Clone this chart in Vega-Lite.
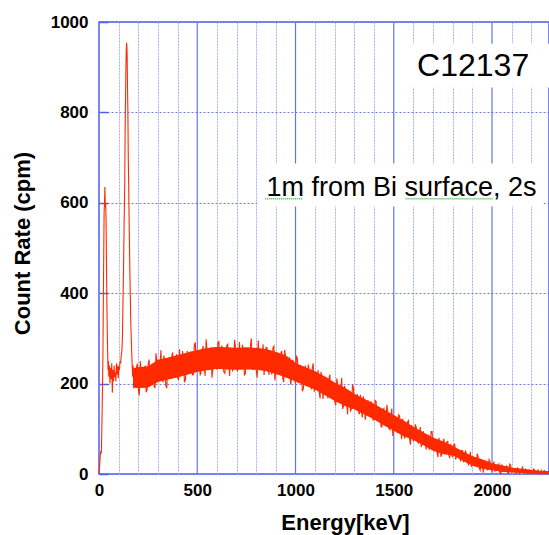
{
  "$schema": "https://vega.github.io/schema/vega-lite/v6.json",
  "width": 450,
  "height": 452,
  "autosize": {"type": "none"},
  "padding": {"left": 99, "top": 22, "right": 0, "bottom": 61},
  "background": "white",
  "config": {"view": {"stroke": "#4f5fe8", "strokeWidth": 1.5}, "font": "Liberation Sans"},
  "datasets": {
    "one": [{}],
    "major": [{"e": 500}, {"e": 1000}, {"e": 1500}, {"e": 2000}],
    "band": [
      {"e":175,"lo":192,"hi":234},{"e":200,"lo":190,"hi":236},{"e":250,"lo":192,"hi":238},{"e":300,"lo":204,"hi":252},
      {"e":350,"lo":209,"hi":257},{"e":400,"lo":214,"hi":262},{"e":450,"lo":220,"hi":268},{"e":500,"lo":226,"hi":274},
      {"e":550,"lo":230,"hi":278},{"e":600,"lo":233,"hi":281},{"e":650,"lo":232,"hi":280},{"e":700,"lo":231,"hi":279},
      {"e":750,"lo":232,"hi":280},{"e":800,"lo":231,"hi":279},{"e":850,"lo":228,"hi":276},{"e":900,"lo":222,"hi":270},
      {"e":950,"lo":214,"hi":262},{"e":1000,"lo":205,"hi":245},{"e":1050,"lo":196,"hi":236},{"e":1100,"lo":187,"hi":227},
      {"e":1150,"lo":175,"hi":215},{"e":1200,"lo":162,"hi":202},{"e":1250,"lo":151,"hi":191},{"e":1300,"lo":143,"hi":177},
      {"e":1350,"lo":132,"hi":166},{"e":1400,"lo":121,"hi":155},{"e":1450,"lo":108,"hi":142},{"e":1500,"lo":96,"hi":130},
      {"e":1550,"lo":84,"hi":118},{"e":1600,"lo":76,"hi":104},{"e":1650,"lo":64,"hi":92},{"e":1700,"lo":52,"hi":80},
      {"e":1750,"lo":44,"hi":72},{"e":1800,"lo":42,"hi":62},{"e":1850,"lo":30,"hi":50},{"e":1900,"lo":19,"hi":39},
      {"e":1950,"lo":12,"hi":32},{"e":2000,"lo":9,"hi":23},{"e":2050,"lo":5,"hi":19},{"e":2100,"lo":4,"hi":14},
      {"e":2150,"lo":3,"hi":11},{"e":2200,"lo":1,"hi":9},{"e":2250,"lo":0,"hi":6},{"e":2290,"lo":0,"hi":6}
    ],
    "spec": [
      {"e":0,"c":0},{"e":3,"c":15},{"e":6,"c":40},{"e":9,"c":50},{"e":12,"c":46},{"e":14,"c":90},{"e":17,"c":170},
      {"e":20,"c":260},{"e":22,"c":380},{"e":24,"c":480},{"e":26,"c":580},{"e":28,"c":600},{"e":30,"c":635},{"e":32,"c":590},
      {"e":34,"c":600},{"e":36,"c":560},{"e":38,"c":470},{"e":40,"c":380},{"e":42,"c":320},{"e":44,"c":268},{"e":46,"c":230},
      {"e":48,"c":250},{"e":50,"c":215},{"e":53,"c":240},{"e":56,"c":200},{"e":59,"c":235},{"e":62,"c":210},{"e":65,"c":245},
      {"e":68,"c":180},{"e":71,"c":230},{"e":74,"c":205},{"e":77,"c":240},{"e":80,"c":215},{"e":83,"c":225},{"e":86,"c":205},
      {"e":89,"c":245},{"e":92,"c":220},{"e":95,"c":240},{"e":98,"c":212},{"e":101,"c":238},{"e":104,"c":230},{"e":107,"c":250},
      {"e":110,"c":245},{"e":113,"c":262},{"e":116,"c":270},{"e":119,"c":300},{"e":122,"c":380},{"e":125,"c":460},{"e":128,"c":560},
      {"e":131,"c":640},{"e":133,"c":760},{"e":135,"c":830},{"e":137,"c":900},{"e":139,"c":940},{"e":141,"c":954},{"e":143,"c":930},
      {"e":145,"c":860},{"e":147,"c":800},{"e":149,"c":700},{"e":151,"c":640},{"e":153,"c":570},{"e":156,"c":480},{"e":159,"c":400},
      {"e":162,"c":330},{"e":165,"c":290},{"e":168,"c":250},{"e":171,"c":215},{"e":174,"c":240},{"e":177,"c":190},{"e":180,"c":225},
      {"e":190,"c":235},{"e":200,"c":188},{"e":210,"c":250},{"e":220,"c":200},{"e":230,"c":225},{"e":240,"c":181},{"e":250,"c":243},
      {"e":260,"c":209},{"e":270,"c":240},{"e":280,"c":195},{"e":290,"c":267},{"e":300,"c":211},{"e":310,"c":235},{"e":320,"c":208},
      {"e":330,"c":262},{"e":340,"c":196},{"e":350,"c":250},{"e":360,"c":223},{"e":370,"c":260},{"e":380,"c":216},{"e":390,"c":259},
      {"e":400,"c":213},{"e":410,"c":276},{"e":420,"c":226},{"e":430,"c":253},{"e":440,"c":209},{"e":450,"c":272},{"e":460,"c":237},
      {"e":470,"c":266},{"e":480,"c":220},{"e":490,"c":291},{"e":500,"c":233},{"e":510,"c":256},{"e":520,"c":229},{"e":530,"c":283},
      {"e":540,"c":217},{"e":550,"c":271},{"e":560,"c":243},{"e":570,"c":280},{"e":580,"c":236},{"e":590,"c":279},{"e":600,"c":232},
      {"e":610,"c":293},{"e":620,"c":243},{"e":630,"c":268},{"e":640,"c":223},{"e":650,"c":284},{"e":660,"c":247},{"e":670,"c":275},
      {"e":680,"c":227},{"e":690,"c":297},{"e":700,"c":238},{"e":710,"c":261},{"e":720,"c":233},{"e":730,"c":286},{"e":740,"c":219},
      {"e":750,"c":273},{"e":760,"c":245},{"e":770,"c":281},{"e":780,"c":236},{"e":790,"c":278},{"e":800,"c":230},{"e":810,"c":296},
      {"e":820,"c":240},{"e":830,"c":264},{"e":840,"c":219},{"e":850,"c":280},{"e":860,"c":242},{"e":870,"c":269},{"e":880,"c":220},
      {"e":890,"c":283},{"e":900,"c":229},{"e":910,"c":250},{"e":920,"c":220},{"e":930,"c":272},{"e":940,"c":203},{"e":950,"c":255},
      {"e":960,"c":224},{"e":970,"c":258},{"e":980,"c":211},{"e":990,"c":250},{"e":1000,"c":200},{"e":1010,"c":254},{"e":1020,"c":209},
      {"e":1030,"c":229},{"e":1040,"c":189},{"e":1050,"c":240},{"e":1060,"c":207},{"e":1070,"c":229},{"e":1080,"c":187},{"e":1090,"c":245},
      {"e":1100,"c":193},{"e":1110,"c":209},{"e":1120,"c":183},{"e":1130,"c":226},{"e":1140,"c":166},{"e":1150,"c":209},{"e":1160,"c":183},
      {"e":1170,"c":211},{"e":1180,"c":170},{"e":1190,"c":204},{"e":1200,"c":160},{"e":1210,"c":211},{"e":1220,"c":166},{"e":1230,"c":185},
      {"e":1240,"c":144},{"e":1250,"c":195},{"e":1260,"c":162},{"e":1270,"c":183},{"e":1280,"c":140},{"e":1290,"c":198},{"e":1300,"c":146},
      {"e":1310,"c":162},{"e":1320,"c":140},{"e":1330,"c":175},{"e":1340,"c":125},{"e":1350,"c":161},{"e":1360,"c":139},{"e":1370,"c":163},
      {"e":1380,"c":128},{"e":1390,"c":156},{"e":1400,"c":120},{"e":1410,"c":161},{"e":1420,"c":123},{"e":1430,"c":138},{"e":1440,"c":104},
      {"e":1450,"c":145},{"e":1460,"c":117},{"e":1470,"c":134},{"e":1480,"c":98},{"e":1490,"c":145},{"e":1500,"c":101},{"e":1510,"c":115},
      {"e":1520,"c":92},{"e":1530,"c":128},{"e":1540,"c":77},{"e":1550,"c":113},{"e":1560,"c":91},{"e":1570,"c":115},{"e":1580,"c":80},
      {"e":1590,"c":108},{"e":1600,"c":72},{"e":1610,"c":110},{"e":1620,"c":77},{"e":1630,"c":90},{"e":1640,"c":60},{"e":1650,"c":95},
      {"e":1660,"c":71},{"e":1670,"c":85},{"e":1680,"c":54},{"e":1690,"c":94},{"e":1700,"c":56},{"e":1710,"c":68},{"e":1720,"c":49},
      {"e":1730,"c":80},{"e":1740,"c":38},{"e":1750,"c":68},{"e":1760,"c":50},{"e":1770,"c":71},{"e":1780,"c":42},{"e":1790,"c":67},
      {"e":1800,"c":37},{"e":1810,"c":66},{"e":1820,"c":42},{"e":1830,"c":50},{"e":1840,"c":28},{"e":1850,"c":52},{"e":1860,"c":33},
      {"e":1870,"c":43},{"e":1880,"c":21},{"e":1890,"c":49},{"e":1900,"c":22},{"e":1910,"c":30},{"e":1920,"c":17},{"e":1930,"c":38},
      {"e":1940,"c":8},{"e":1950,"c":29},{"e":1960,"c":16},{"e":1970,"c":30},{"e":1980,"c":10},{"e":1990,"c":27},{"e":2000,"c":5},
      {"e":2010,"c":26},{"e":2020,"c":10},{"e":2030,"c":17},{"e":2040,"c":3},{"e":2050,"c":20},{"e":2060,"c":9},{"e":2070,"c":16},
      {"e":2080,"c":2},{"e":2090,"c":22},{"e":2100,"c":4},{"e":2110,"c":10},{"e":2120,"c":4},{"e":2130,"c":13},{"e":2140,"c":1},
      {"e":2150,"c":10},{"e":2160,"c":5},{"e":2170,"c":11},{"e":2180,"c":2},{"e":2190,"c":9},{"e":2200,"c":1},{"e":2210,"c":11},
      {"e":2220,"c":2},{"e":2230,"c":6},{"e":2240,"c":0},{"e":2250,"c":8},{"e":2260,"c":2},{"e":2270,"c":6},{"e":2280,"c":0},{"e":2290,"c":4},
      {"e":185,"c":195},{"e":195,"c":244},{"e":205,"c":174},{"e":215,"c":228},{"e":225,"c":208},{"e":235,"c":240},{"e":245,"c":187},
      {"e":255,"c":253},{"e":265,"c":199},{"e":275,"c":230},{"e":285,"c":190},{"e":295,"c":249},{"e":305,"c":217},{"e":315,"c":274},
      {"e":325,"c":205},{"e":335,"c":248},{"e":345,"c":190},{"e":355,"c":239},{"e":365,"c":212},{"e":375,"c":269},{"e":385,"c":228},
      {"e":395,"c":265},{"e":405,"c":208},{"e":415,"c":223},{"e":425,"c":272},{"e":435,"c":203},{"e":445,"c":257},{"e":455,"c":239},
      {"e":465,"c":271},{"e":475,"c":219},{"e":485,"c":285},{"e":495,"c":230},{"e":505,"c":259},{"e":515,"c":218},{"e":525,"c":274},
      {"e":535,"c":242},{"e":545,"c":298},{"e":555,"c":229},{"e":565,"c":272},{"e":575,"c":213},{"e":585,"c":262},{"e":595,"c":234},
      {"e":605,"c":291},{"e":615,"c":248},{"e":625,"c":284},{"e":635,"c":226},{"e":645,"c":239},{"e":655,"c":287},{"e":665,"c":217},
      {"e":675,"c":270},{"e":685,"c":250},{"e":695,"c":280},{"e":705,"c":227},{"e":715,"c":292},{"e":725,"c":236},{"e":735,"c":264},
      {"e":745,"c":222},{"e":755,"c":278},{"e":765,"c":244},{"e":775,"c":300},{"e":785,"c":230},{"e":795,"c":272},{"e":805,"c":213},
      {"e":815,"c":260},{"e":825,"c":231},{"e":835,"c":287},{"e":845,"c":244},{"e":855,"c":279},{"e":865,"c":219},{"e":875,"c":232},
      {"e":885,"c":279},{"e":895,"c":207},{"e":905,"c":259},{"e":915,"c":238},{"e":925,"c":267},{"e":935,"c":212},{"e":945,"c":275},
      {"e":955,"c":217},{"e":965,"c":242},{"e":975,"c":198},{"e":985,"c":251},{"e":995,"c":215},{"e":1005,"c":262},{"e":1015,"c":201},
      {"e":1025,"c":235},{"e":1035,"c":183},{"e":1045,"c":222},{"e":1055,"c":196},{"e":1065,"c":242},{"e":1075,"c":204},{"e":1085,"c":234},
      {"e":1095,"c":182},{"e":1105,"c":191},{"e":1115,"c":230},{"e":1125,"c":167},{"e":1135,"c":211},{"e":1145,"c":191},{"e":1155,"c":215},
      {"e":1165,"c":167},{"e":1175,"c":220},{"e":1185,"c":169},{"e":1195,"c":191},{"e":1205,"c":152},{"e":1215,"c":198},{"e":1225,"c":167},
      {"e":1235,"c":213},{"e":1245,"c":151},{"e":1255,"c":184},{"e":1265,"c":132},{"e":1275,"c":170},{"e":1285,"c":144},{"e":1295,"c":190},
      {"e":1305,"c":153},{"e":1315,"c":177},{"e":1325,"c":132},{"e":1335,"c":140},{"e":1345,"c":172},{"e":1355,"c":120},{"e":1365,"c":156},
      {"e":1375,"c":139},{"e":1385,"c":159},{"e":1395,"c":119},{"e":1405,"c":163},{"e":1415,"c":120},{"e":1425,"c":138},{"e":1435,"c":105},
      {"e":1445,"c":142},{"e":1455,"c":116},{"e":1465,"c":153},{"e":1475,"c":101},{"e":1485,"c":129},{"e":1495,"c":84},{"e":1505,"c":116},
      {"e":1515,"c":93},{"e":1525,"c":131},{"e":1535,"c":99},{"e":1545,"c":122},{"e":1555,"c":78},{"e":1565,"c":86},{"e":1575,"c":118},
      {"e":1585,"c":65},{"e":1595,"c":101},{"e":1605,"c":85},{"e":1615,"c":102},{"e":1625,"c":67},{"e":1635,"c":104},{"e":1645,"c":67},
      {"e":1655,"c":82},{"e":1665,"c":54},{"e":1675,"c":86},{"e":1685,"c":63},{"e":1695,"c":94},{"e":1705,"c":50},{"e":1715,"c":74},
      {"e":1725,"c":37},{"e":1735,"c":64},{"e":1745,"c":45},{"e":1755,"c":78},{"e":1765,"c":51},{"e":1775,"c":72},{"e":1785,"c":35},
      {"e":1795,"c":42},{"e":1805,"c":64},{"e":1815,"c":32},{"e":1825,"c":53},{"e":1835,"c":41},{"e":1845,"c":52},{"e":1855,"c":26},
      {"e":1865,"c":52},{"e":1875,"c":26},{"e":1885,"c":36},{"e":1895,"c":16},{"e":1905,"c":38},{"e":1915,"c":22},{"e":1925,"c":45},
      {"e":1935,"c":13},{"e":1945,"c":30},{"e":1955,"c":3},{"e":1965,"c":23},{"e":1975,"c":9},{"e":1985,"c":32},{"e":1995,"c":13},
      {"e":2005,"c":24},{"e":2015,"c":6},{"e":2025,"c":9},{"e":2035,"c":22},{"e":2045,"c":1},{"e":2055,"c":16},{"e":2065,"c":9},
      {"e":2075,"c":18},{"e":2085,"c":2},{"e":2095,"c":20},{"e":2105,"c":5},{"e":2115,"c":10},{"e":2125,"c":2},{"e":2135,"c":11},
      {"e":2145,"c":5},{"e":2155,"c":15},{"e":2165,"c":2},{"e":2175,"c":9},{"e":2185,"c":0},{"e":2195,"c":6},{"e":2205,"c":1},
      {"e":2215,"c":10},{"e":2225,"c":3},{"e":2235,"c":9},{"e":2245,"c":0},{"e":2255,"c":0},{"e":2265,"c":8},{"e":2275,"c":0},{"e":2285,"c":5}
    ]
  },
  "layer": [
    {
      "data": {"name": "band"},
      "mark": {"type": "area", "color": "#ff2a00", "opacity": 1},
      "encoding": {
        "x": {
          "field": "e", "type": "quantitative",
          "scale": {"domain": [0, 2290], "nice": false, "zero": false},
          "axis": {
            "values": [0,100,200,300,400,500,600,700,800,900,1000,1100,1200,1300,1400,1500,1600,1700,1800,1900,2000,2100,2200],
            "tickCount": 40,
            "format": "d",
            "labelExpr": "datum.value % 500 === 0 ? datum.label : ''",
            "labelOverlap": false, "labelFlush": false,
            "labelFont": "Liberation Sans", "labelFontWeight": "bold", "labelFontSize": 17, "labelColor": "black", "labelPadding": 8,
            "ticks": false, "domain": false,
            "grid": true,
            "gridColor": "#a9b0f5",
            "gridOpacity": {"condition": {"test": "datum.value % 500 === 0", "value": 0}, "value": 1},
            "gridDash": [2, 1],
            "gridWidth": 1,
            "title": "Energy[keV]",
            "titleFont": "Liberation Sans", "titleFontWeight": "bold", "titleFontSize": 22, "titleColor": "black",
            "titleX": 246, "titleY": 55, "titleBaseline": "alphabetic", "titleAlign": "center"
          }
        },
        "y": {
          "field": "lo", "type": "quantitative",
          "scale": {"domain": [0, 1000], "nice": false},
          "axis": {
            "values": [0,200,400,600,800,1000],
            "tickCount": 10,
            "format": "d",
            "labelFont": "Liberation Sans", "labelFontWeight": "bold", "labelFontSize": 17, "labelColor": "black", "labelPadding": 20,
            "ticks": true, "tickSize": -9, "tickColor": "#4f5fe8", "tickWidth": 1.5,
            "domain": false,
            "grid": true, "gridColor": "#6a78ee", "gridDash": [2, 2], "gridWidth": 1,
            "title": "Count Rate (cpm)",
            "titleFont": "Liberation Sans", "titleFontWeight": "bold", "titleFontSize": 22, "titleColor": "black",
            "titleX": -65, "titleY": 221, "titleAngle": -90, "titleBaseline": "bottom", "titleAlign": "center"
          }
        },
        "y2": {"field": "hi"}
      }
    },
    {
      "data": {"name": "major"},
      "mark": {"type": "rule", "color": "#6475f0", "strokeWidth": 1.2},
      "encoding": {
        "x": {"field": "e", "type": "quantitative"}
      }
    },
    {
      "data": {"name": "one"},
      "mark": {"type": "rect", "fill": "white"},
      "encoding": {
        "x": {"datum": 1550, "type": "quantitative"},
        "x2": {"datum": 2290},
        "y": {"datum": 855, "type": "quantitative"},
        "y2": {"datum": 952}
      }
    },
    {
      "data": {"name": "one"},
      "mark": {"type": "rect", "fill": "white"},
      "encoding": {
        "x": {"datum": 805, "type": "quantitative"},
        "x2": {"datum": 2263},
        "y": {"datum": 592, "type": "quantitative"},
        "y2": {"datum": 687}
      }
    },
    {
      "data": {"name": "band"},
      "mark": {"type": "area", "color": "#ff2a00", "opacity": 1},
      "encoding": {
        "x": {"field": "e", "type": "quantitative"},
        "y": {"field": "lo", "type": "quantitative"},
        "y2": {"field": "hi"}
      }
    },
    {
      "data": {"name": "spec"},
      "mark": {"type": "line", "color": "#ff2a00", "strokeWidth": 1.1, "interpolate": "linear"},
      "encoding": {
        "x": {"field": "e", "type": "quantitative"},
        "y": {"field": "c", "type": "quantitative"}
      }
    },
    {
      "data": {"name": "one"},
      "mark": {"type": "text", "text": "C12137", "font": "Liberation Sans", "fontSize": 32, "color": "black", "align": "center", "baseline": "alphabetic"},
      "encoding": {
        "x": {"datum": 1904, "type": "quantitative"},
        "y": {"datum": 881, "type": "quantitative"}
      }
    },
    {
      "data": {"name": "one"},
      "mark": {"type": "text", "text": "1m from Bi surface, 2s", "font": "Liberation Sans", "fontSize": 27, "color": "black", "align": "center", "baseline": "alphabetic"},
      "encoding": {
        "x": {"datum": 1539, "type": "quantitative"},
        "y": {"datum": 616, "type": "quantitative"}
      }
    },
    {
      "data": {"name": "one"},
      "mark": {"type": "rule", "color": "#3cb043", "strokeWidth": 1.5, "strokeDash": [1, 1]},
      "encoding": {
        "x": {"datum": 846, "type": "quantitative"},
        "x2": {"datum": 1035},
        "y": {"datum": 609, "type": "quantitative"}
      }
    },
    {
      "data": {"name": "one"},
      "mark": {"type": "rule", "color": "#3cb043", "strokeWidth": 1.5, "strokeDash": [1, 1]},
      "encoding": {
        "x": {"datum": 1560, "type": "quantitative"},
        "x2": {"datum": 2008},
        "y": {"datum": 609, "type": "quantitative"}
      }
    }
  ]
}
